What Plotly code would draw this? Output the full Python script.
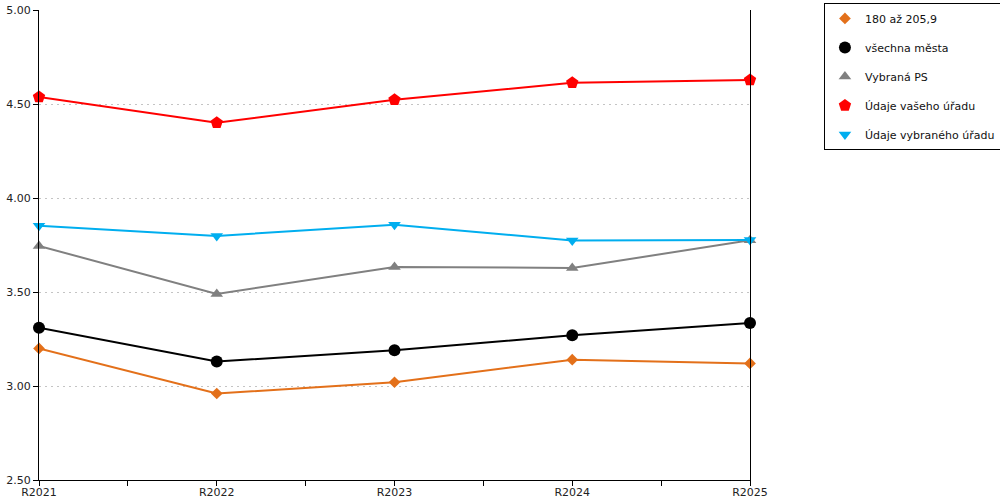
import plotly.graph_objects as go

roky = ["R2021", "R2022", "R2023", "R2024", "R2025"]

skupina_180 = [3.20, 2.96, 3.02, 3.14, 3.12]
vsechna_mesta = [3.31, 3.13, 3.19, 3.27, 3.335]
vybrana_ps = [3.745, 3.49, 3.633, 3.628, 3.775]
vas_urad = [4.537, 4.40, 4.522, 4.613, 4.628]
vybrany_urad = [3.852, 3.798, 3.858, 3.774, 3.777]

y_ticks = [2.5, 3.0, 3.5, 4.0, 4.5, 5.0]

x = list(range(len(roky)))

serie = [
    ("180 až 205,9", skupina_180, "#e3701a", "diamond", 9),
    ("všechna města", vsechna_mesta, "#000000", "circle", 12),
    ("Vybraná PS", vybrana_ps, "#808080", "triangle-up", 11),
    ("Údaje vašeho úřadu", vas_urad, "#ff0000", "pentagon", 13),
    ("Údaje vybraného úřadu", vybrany_urad, "#00aeef", "triangle-down", 11),
]

fig = go.Figure()
for i, (name, vals, col, sym, sz) in enumerate(serie):
    fig.add_trace(go.Scatter(
        x=x, y=vals, name=name, mode="lines+markers",
        line=dict(color=col, width=2),
        marker=dict(color=col, symbol=sym, size=sz),
        cliponaxis=False, showlegend=False))
    # legend shows markers only
    fig.add_trace(go.Scatter(
        x=[None], y=[None], name=name, mode="markers",
        marker=dict(color=col, symbol=sym, size=sz),
        legendgroup=str(i)))

fig.update_layout(
    width=1000, height=500,
    margin=dict(l=39, r=250, t=10, b=20, autoexpand=False),
    plot_bgcolor="white", paper_bgcolor="white",
    font=dict(family="DejaVu Sans", size=11, color="#222222"),
    legend=dict(x=1.104, y=1.015, xanchor="left", yanchor="top",
                bordercolor="black", borderwidth=1, bgcolor="white",
                traceorder="grouped", tracegroupgap=10,
                font=dict(size=11, color="#111111")),
    showlegend=True,
)

fig.update_xaxes(
    range=[0, 4], tickvals=x, ticktext=roky, automargin=False,
    showline=True, linecolor="black", linewidth=1,
    ticks="outside", ticklen=5, tickcolor="black", ticklabelstandoff=-3,
    minor=dict(dtick=0.5, tick0=0, ticks="outside", ticklen=5, tickcolor="black"),
    showgrid=False, zeroline=False, mirror=False,
)
fig.update_yaxes(
    range=[2.5, 5.0], tickvals=y_ticks, tickformat=".2f", automargin=False,
    showline=True, linecolor="black", linewidth=1, mirror=True,
    ticks="outside", ticklen=5, tickcolor="black",
    showgrid=True, gridcolor="#c4c4c4", griddash="2px,4px", gridwidth=1,
    zeroline=False,
)

# the page's default body margin would shift the chart by 8px
fig.write_html("out.html", config={"displayModeBar": False},
               post_script="document.body.style.margin='0';")
